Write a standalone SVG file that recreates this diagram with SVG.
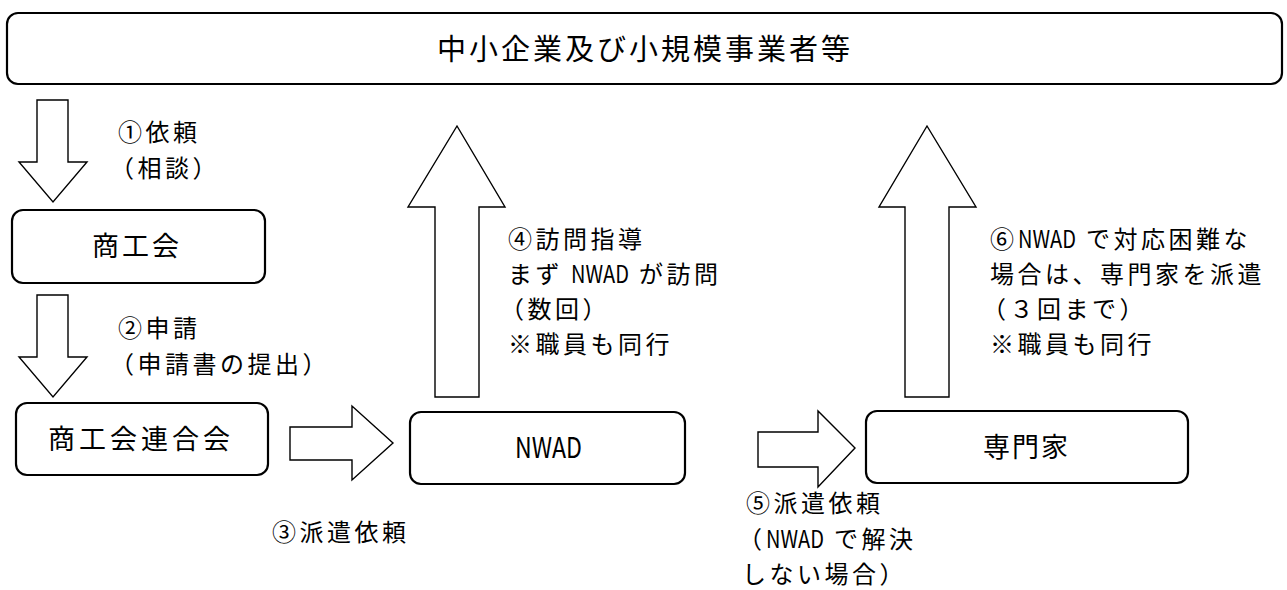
<svg xmlns="http://www.w3.org/2000/svg" width="1287" height="590" viewBox="0 0 1287 590">
<defs>
<style>
.box{fill:#fff;stroke:#000;stroke-width:2.2}
.arr{fill:#fff;stroke:#000;stroke-width:1.4;stroke-linejoin:miter}
text{font-family:"Noto Sans CJK JP","Noto Sans CJK SC",sans-serif;fill:#000}
.t{font-size:24px;letter-spacing:3.5px}
.n{font-size:24px;letter-spacing:0px}
</style>
</defs>
<rect width="1287" height="590" fill="#fff"/>
<g id="node-top">
<rect class="box" x="7" y="13" width="1275" height="71" rx="11"/>
<text x="437" y="60" style="font-size:29px;letter-spacing:3px">中小企業及び小規模事業者等</text>
</g>
<g id="node-shokokai">
<rect class="box" x="12" y="210" width="253" height="73" rx="11"/>
<text x="92" y="256" style="font-size:27px;letter-spacing:3px">商工会</text>
</g>
<g id="node-rengokai">
<rect class="box" x="16" y="403" width="252" height="72" rx="11"/>
<text x="48" y="449" style="font-size:27px;letter-spacing:4px">商工会連合会</text>
</g>
<g id="node-nwad">
<rect class="box" x="410" y="412" width="275" height="72" rx="11"/>
<text x="515" y="458" textLength="67" lengthAdjust="spacingAndGlyphs" style="font-size:29px">NWAD</text>
</g>
<g id="node-senmonka">
<rect class="box" x="866" y="411" width="322" height="72" rx="11"/>
<text x="983" y="457" style="font-size:27px;letter-spacing:2px">専門家</text>
</g>
<g id="connectors">
<polygon class="arr" points="37,100 68,100 68,162 87,162 53,202 19,162 37,162"/>
<polygon class="arr" points="37,295 68,295 68,357 87,357 53,397 19,357 37,357"/>
<polygon class="arr" points="290,427 352,427 352,406 393,443 352,480 352,460 290,460"/>
<polygon class="arr" points="758,432 818,432 818,411 855,448 818,487 818,467 758,467"/>
<polygon class="arr" points="435,397 479,397 479,207 505,207 457,126 408,207 435,207"/>
<polygon class="arr" points="905,397 949,397 949,207 976,207 927,126 879,207 905,207"/>
</g>
<g id="labels">
<text class="t" x="118" y="141">①依頼</text>
<text class="t" x="110" y="177">（相談）</text>
<text class="t" x="118" y="337">②申請</text>
<text class="t" x="110" y="373">（申請書の提出）</text>
<text class="t" x="272" y="541">③派遣依頼</text>
<text class="t" x="508" y="248">④訪問指導</text>
<text class="t" x="508" y="283">まず</text>
<text class="n" x="571" y="283" textLength="58" lengthAdjust="spacingAndGlyphs">NWAD</text>
<text class="t" x="639" y="283">が訪問</text>
<text class="t" x="500" y="318">（数回）</text>
<text class="t" x="508" y="353">※職員も同行</text>
<text class="t" x="746" y="512">⑤派遣依頼</text>
<text class="t" x="738" y="548">（</text>
<text class="n" x="766" y="548" textLength="58" lengthAdjust="spacingAndGlyphs">NWAD</text>
<text class="t" x="834" y="548">で解決</text>
<text class="t" x="742" y="583">しない場合）</text>
<text class="t" x="990" y="248">⑥</text>
<text class="n" x="1018" y="248" textLength="58" lengthAdjust="spacingAndGlyphs">NWAD</text>
<text class="t" x="1086" y="248">で対応困難な</text>
<text class="t" x="990" y="283">場合は、専門家を派遣</text>
<text class="t" x="982" y="318">（３回まで）</text>
<text class="t" x="990" y="353">※職員も同行</text>
</g>
</svg>
